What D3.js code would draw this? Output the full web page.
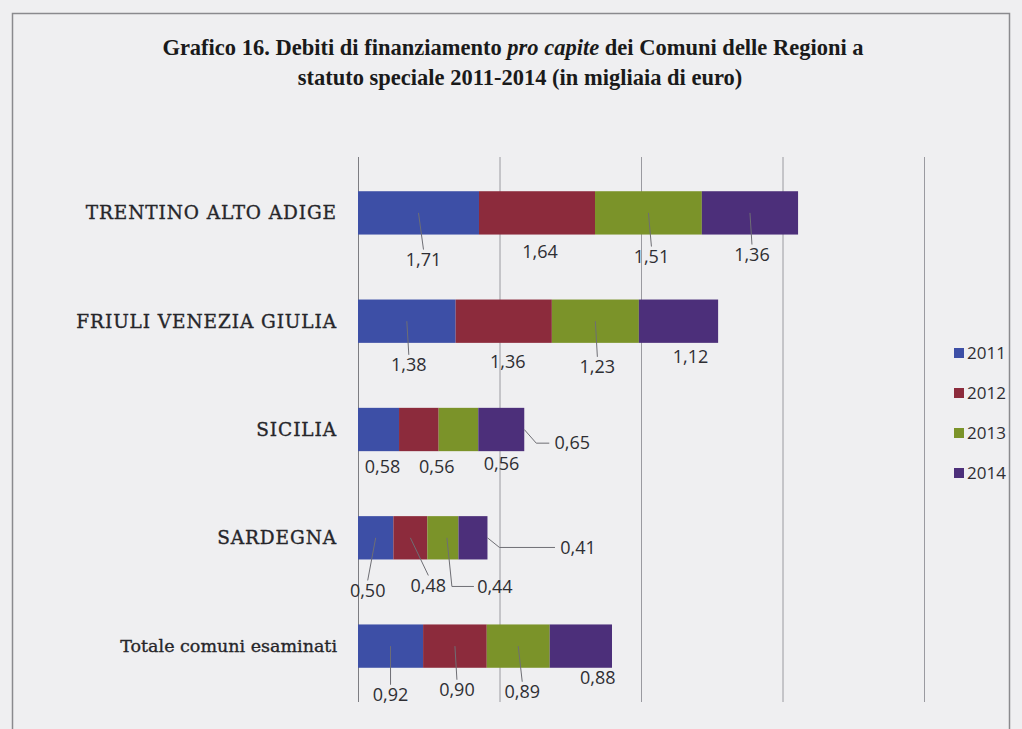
<!DOCTYPE html>
<html>
<head>
<meta charset="utf-8">
<script src="https://d3js.org/d3.v7.min.js"></script>
<style>
  html, body { margin: 0; padding: 0; background: #efeff1; }
  svg { display: block; }
</style>
</head>
<body>
<svg id="chart" width="1022" height="729"></svg>
<script>
// data
const categories = ["TRENTINO ALTO ADIGE", "FRIULI VENEZIA GIULIA", "SICILIA", "SARDEGNA", "Totale comuni esaminati"];
const years = ["2011", "2012", "2013", "2014"];
const v2011 = [1.71, 1.38, 0.58, 0.50, 0.92];
const v2012 = [1.64, 1.36, 0.56, 0.48, 0.90];
const v2013 = [1.51, 1.23, 0.56, 0.44, 0.89];
const v2014 = [1.36, 1.12, 0.65, 0.41, 0.88];
const xTicks = [0, 2, 4, 6, 8];

const colors = ["#3d4fa6", "#8c2b3c", "#7b9329", "#4c2f7a"];

// where each data label sits relative to its segment: [dx, dy from bar bottom, leader kind]
const labelLayout = [
  [[5, 25, "v"], [3, 17, null], [3, 22, "v"], [2, 20, "v"]],
  [[2, 22, "v"], [4, 19, null], [2, 24, "v"], [12, 14, null]],
  [[4, 16, null], [18, 16, null], [43, 13, null], [71, -8, "r"]],
  [[-8, 31, "v"], [18, 26, "v"], [52, 27, "e"], [105, -12, "r"]],
  [[0, 27, "v"], [2, 22, "v"], [4, 24, "v"], [17, 10, null]]
];

const svg = d3.select("#chart");

// frame of the scanned page
svg.append("rect")
  .attr("x", 12.5).attr("y", 13.5)
  .attr("width", 997).attr("height", 730)
  .attr("fill", "none").attr("stroke", "#8a8a8e").attr("stroke-width", 1.5);

// title
const title = svg.append("text")
  .attr("text-anchor", "middle")
  .style("font-family", "'Liberation Serif', serif")
  .style("font-weight", "bold")
  .style("font-size", "22.5px")
  .attr("fill", "#1a1a1a");
const t1 = title.append("tspan").attr("x", 513).attr("y", 55);
t1.append("tspan").text("Grafico 16. Debiti di finanziamento ");
t1.append("tspan").style("font-style", "italic").text("pro capite");
t1.append("tspan").text(" dei Comuni delle Regioni a");
title.append("tspan").attr("x", 520).attr("y", 85)
  .text("statuto speciale 2011-2014 (in migliaia di euro)");

const x = d3.scaleLinear().domain([0, 8]).range([358, 924]);
const y = d3.scaleBand().domain(categories).range([157, 702])
  .paddingInner(0.6).paddingOuter(0.316);

// gridlines
svg.append("g").selectAll("line")
  .data(xTicks)
  .join("line")
  .attr("x1", d => x(d) + 0.5).attr("x2", d => x(d) + 0.5)
  .attr("y1", 157).attr("y2", 702)
  .attr("stroke", d => d === 0 ? "#7d7d82" : "#9a9aa0")
  .attr("stroke-width", 1);

// stacked series
const rows = categories.map((c, i) => ({
  cat: c, "2011": v2011[i], "2012": v2012[i], "2013": v2013[i], "2014": v2014[i]
}));
const series = d3.stack().keys(years)(rows);

svg.append("g").selectAll("g")
  .data(series)
  .join("g")
  .attr("fill", (d, i) => colors[i])
  .selectAll("rect")
  .data(d => d)
  .join("rect")
  .attr("x", d => x(d[0]))
  .attr("y", d => y(d.data.cat))
  .attr("width", d => x(d[1]) - x(d[0]))
  .attr("height", y.bandwidth());

// data labels + leader lines
const labels = [];
series.forEach((s, k) => {
  s.forEach((d, i) => {
    const lay = labelLayout[i][k];
    const cx = x((d[0] + d[1]) / 2);
    const top = y(d.data.cat);
    const bottom = top + y.bandwidth();
    labels.push({
      value: d[1] - d[0],
      segX: cx,
      mid: top + y.bandwidth() / 2,
      end: x(d[1]),
      lx: cx + lay[0],
      ly: bottom + lay[1],
      kind: lay[2]
    });
  });
});

const fmt = v => d3.format(".2f")(v).replace(".", ",");

svg.append("g").selectAll("path")
  .data(labels.filter(d => d.kind))
  .join("path")
  .attr("fill", "none")
  .attr("stroke", "#6e6e74")
  .attr("stroke-width", 1)
  .attr("d", d => {
    if (d.kind === "v") return d3.line()([[d.segX, d.mid], [d.lx, d.ly - 10]]);
    if (d.kind === "e") return d3.line()([[d.lx - 21, d.ly], [d.segX + 9, d.ly], [d.segX + 4, d.mid]]);
    return d3.line()([[d.end, d.mid], [d.end + 12, d.ly], [d.lx - 23, d.ly]]);
  });

svg.append("g").selectAll("text")
  .data(labels)
  .join("text")
  .attr("x", d => d.lx)
  .attr("y", d => d.ly)
  .attr("dy", "0.35em")
  .attr("text-anchor", "middle")
  .style("font-family", "'Open Sans', sans-serif")
  .style("font-size", "18px")
  .attr("fill", "#2e2e33")
  .text(d => fmt(d.value));

// category labels (slightly emboldened like the print)
svg.append("g").selectAll("text")
  .data(categories)
  .join("text")
  .attr("x", 337)
  .attr("y", d => y(d) + y.bandwidth() / 2)
  .attr("dy", "0.35em")
  .attr("text-anchor", "end")
  .style("font-family", "'DejaVu Serif', serif")
  .style("font-size", d => d === d.toUpperCase() ? "18.5px" : "17.5px")
  .style("letter-spacing", (d, i) => i < 4 ? "0.9px" : "0px")
  .attr("fill", "#26262a")
  .attr("stroke", "#26262a")
  .attr("stroke-width", 0.35)
  .text(d => d);

// legend
const legend = svg.append("g").selectAll("g")
  .data(years)
  .join("g")
  .attr("transform", (d, i) => `translate(954, ${353 + i * 40})`);
legend.append("rect")
  .attr("x", 0).attr("y", -5).attr("width", 10).attr("height", 10)
  .attr("fill", (d, i) => colors[i]);
legend.append("text")
  .attr("x", 13).attr("dy", "0.35em")
  .style("font-family", "'Open Sans', sans-serif")
  .style("font-size", "17px")
  .attr("fill", "#2e2e33")
  .text(d => d);
</script>
</body>
</html>
